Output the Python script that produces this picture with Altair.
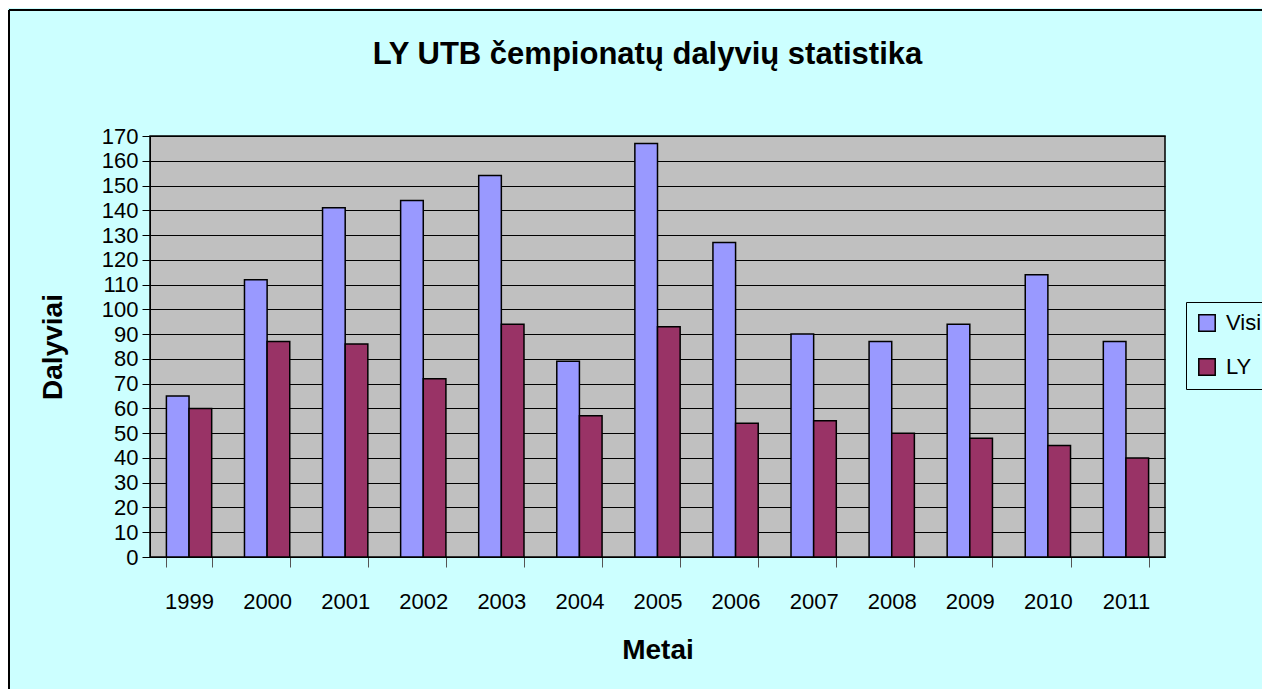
import altair as alt
import pandas as pd

years = ["1999", "2000", "2001", "2002", "2003", "2004", "2005",
         "2006", "2007", "2008", "2009", "2010", "2011"]
visi = [65, 112, 141, 144, 154, 79, 167, 127, 90, 87, 94, 114, 87]
ly = [60, 87, 86, 72, 94, 57, 93, 54, 55, 50, 48, 45, 40]
series = ["Visi", "LY"]
colors = ["#9999FF", "#993366"]

rows = []
for i, y in enumerate(years):
    rows.append({"Metai": y, "Serija": "Visi", "Dalyviai": visi[i]})
    rows.append({"Metai": y, "Serija": "LY", "Dalyviai": ly[i]})
df = pd.DataFrame(rows)

FONT = "Liberation Sans"
W, H = 1015, 421

bars = alt.Chart(df).mark_bar(stroke="black", strokeWidth=1.5).encode(
    x=alt.X("Metai:N", sort=years,
            scale=alt.Scale(paddingInner=0.42, paddingOuter=0.21),
            axis=alt.Axis(labelAngle=0, tickBand="extent", tickSize=10,
                          tickColor="#555555", domainColor="black",
                          labelFontSize=22, labelPadding=24, labelColor="black",
                          labelFont=FONT, title="Metai", titleFont=FONT,
                          titleFontSize=28, titleFontWeight="bold",
                          titleColor="black", titlePadding=24, grid=False)),
    xOffset=alt.XOffset("Serija:N", sort=series),
    y=alt.Y("Dalyviai:Q",
            scale=alt.Scale(domain=[0, 170], nice=False),
            axis=alt.Axis(values=list(range(0, 171, 10)), tickSize=8,
                          tickColor="black", domainColor="black",
                          labelFontSize=22, labelPadding=4, labelColor="black",
                          labelFont=FONT, title="Dalyviai", titleFont=FONT,
                          titleFontSize=28, titleFontWeight="bold",
                          titleColor="black", titlePadding=34,
                          grid=True, gridColor="black", gridWidth=1,
                          gridOpacity=1)),
    color=alt.Color("Serija:N", sort=series,
                    scale=alt.Scale(domain=series, range=colors),
                    legend=alt.Legend(title=None, orient="none",
                                      legendX=1036, legendY=166,
                                      symbolType="square", symbolSize=270,
                                      symbolStrokeColor="black",
                                      symbolStrokeWidth=1.5,
                                      symbolOpacity=1,
                                      labelFontSize=22, labelFont=FONT,
                                      labelColor="black", rowPadding=20,
                                      padding=10, strokeColor="black",
                                      fillColor="#CCFFFF", labelOffset=8)),
)

border_df = pd.DataFrame({"k": [0]})
top_border = alt.Chart(border_df).mark_rule(color="black", strokeWidth=2).encode(
    x=alt.value(-141), x2=alt.value(W + 100), y=alt.value(-126))
left_border = alt.Chart(border_df).mark_rule(color="black", strokeWidth=2).encode(
    x=alt.value(-141), y=alt.value(-126), y2=alt.value(H + 140))

chart = alt.layer(bars, top_border, left_border).properties(
    width=W, height=H,
    title=alt.TitleParams("LY UTB čempionatų dalyvių statistika",
                          font=FONT, fontSize=31, fontWeight="bold",
                          color="black", anchor="middle", offset=-62, dx=-10),
    autosize=alt.AutoSizeParams(type="none"),
    padding={"left": 142, "top": 128, "right": 97, "bottom": 132},
    background="#CCFFFF",
).configure_view(fill="#C0C0C0", stroke="black", strokeWidth=1.5)

chart.save("out.html", embed_options={"renderer": "svg", "actions": False})
